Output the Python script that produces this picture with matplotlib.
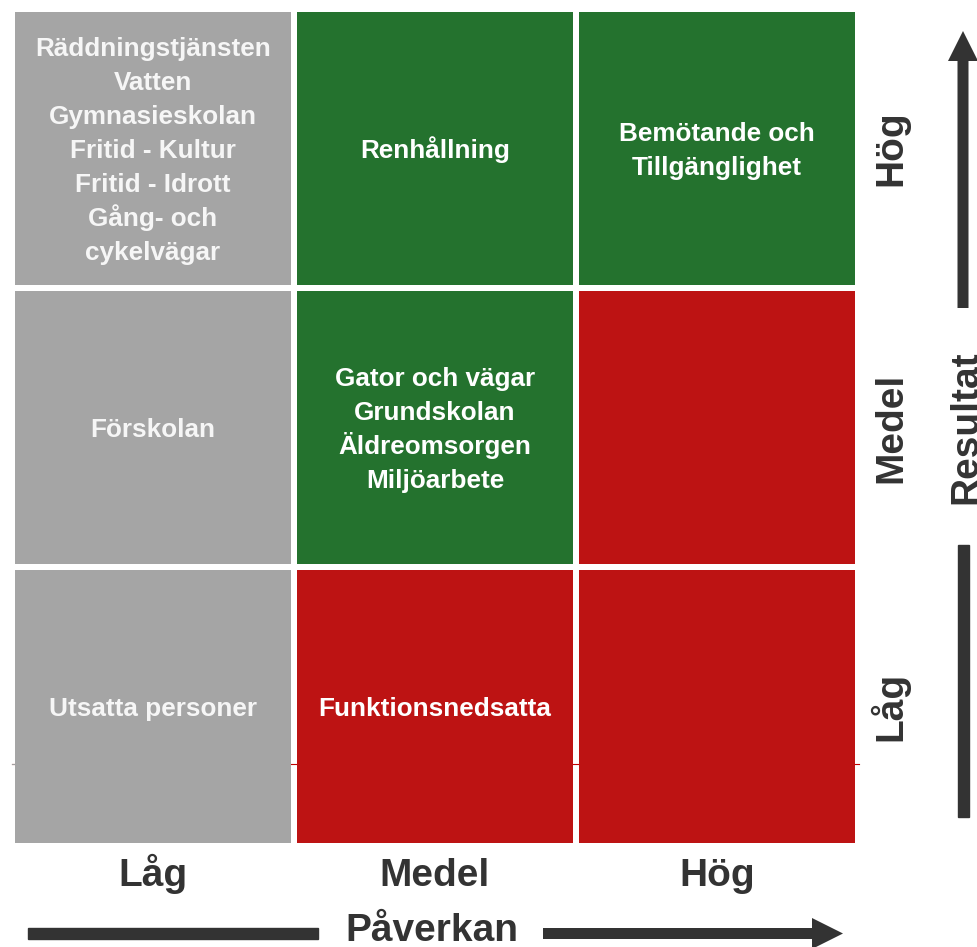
import matplotlib
matplotlib.use("Agg")
import matplotlib.pyplot as plt
from matplotlib import patches

plt.rcParams['font.family'] = ['Liberation Sans', 'DejaVu Sans']
plt.rcParams['font.weight'] = 'bold'

# kolumner = Påverkan, rader = Resultat (nerifrån och upp)
cols = ['Låg', 'Medel', 'Hög']
rows = ['Låg', 'Medel', 'Hög']
status = [
    ['gra', 'rod', 'rod'],    # Låg
    ['gra', 'gron', 'rod'],   # Medel
    ['gra', 'gron', 'gron'],  # Hög
]
texts = [
    ['Utsatta personer', 'Funktionsnedsatta', ''],
    ['Förskolan', 'Gator och vägar\nGrundskolan\nÄldreomsorgen\nMiljöarbete', ''],
    ['Räddningstjänsten\nVatten\nGymnasieskolan\nFritid - Kultur\nFritid - Idrott\nGång- och\ncykelvägar',
     'Renhållning', 'Bemötande och\nTillgänglighet'],
]
x_title = 'Påverkan'
y_title = 'Resultat'

colors = {'gra': '#a5a5a5', 'gron': '#24722e', 'rod': '#bd1313'}
textcol = {'gra': '#f6f6f6', 'gron': 'white', 'rod': 'white'}
dark = '#333333'

W, H = 978, 947
fig = plt.figure(figsize=(W / 100, H / 100), dpi=100)
ax = fig.add_axes([15 / W, 104 / H, 840 / W, 831 / H])

bw = 276 / 282
bh = 273 / 279
for r in range(len(rows)):
    ax.bar(range(len(cols)), bh, bottom=r - bh / 2, width=bw,
           color=[colors[s] for s in status[r]], zorder=2)

ax.set_xlim(-0.5 + (1 - bw) / 2, len(cols) - 0.5 - (1 - bw) / 2)
ax.set_ylim(-0.5 + (1 - bh) / 2, len(rows) - 0.5 - (1 - bh) / 2)
ax.axis('off')

# tunn linje bakom rutorna
ax.axhline(-0.206, xmin=-0.004, xmax=1.005, color='#c00000', lw=0.8,
           zorder=1, clip_on=False)
ax.axhline(-0.206, xmin=-0.004, xmax=0.0, color='#a0a0a0', lw=0.8,
           zorder=1, clip_on=False)

# text i rutorna, en rad i taget (34 px radavstånd)
pitch = 34 * 0.72
half_cap = 9 * 0.72
for r in range(len(rows)):
    for c in range(len(cols)):
        lines = texts[r][c].split('\n') if texts[r][c] else []
        n = len(lines)
        for k, line in enumerate(lines):
            off = -(k - (n - 1) / 2) * pitch - half_cap
            ax.annotate(line, xy=(c, r), xytext=(0, off),
                        textcoords='offset points', ha='center',
                        va='baseline', fontsize=18.8, fontweight='bold',
                        color=textcol[status[r][c]], zorder=3)

# kolumnrubriker
for c, lab in enumerate(cols):
    ax.text(c, -43 / 831, lab, transform=ax.get_xaxis_transform(),
            ha='center', va='baseline', fontsize=28, color=dark)

# radrubriker
for r, lab in enumerate(rows):
    ax.text((901 - 15) / 840, r, lab, transform=ax.get_yaxis_transform(),
            rotation=90, rotation_mode='anchor', ha='center', va='baseline',
            fontsize=28, color=dark)

# pilar och axeltitlar
ov = fig.add_axes([0, 0, 1, 1], zorder=-1)
ov.set_xlim(0, W)
ov.set_ylim(H, 0)
ov.axis('off')

ov.add_patch(patches.Rectangle((28, 928), 290, 11, color=dark))
ov.add_patch(patches.FancyArrow(543, 933.5, 300, 0, width=11, head_width=31,
                                head_length=31, length_includes_head=True,
                                color=dark, lw=0))
ov.text(432, 941, x_title, ha='center', va='baseline', fontsize=28, color=dark)

ov.add_patch(patches.FancyArrow(963, 308, 0, -277, width=11, head_width=30,
                                head_length=30, length_includes_head=True,
                                color=dark, lw=0))
ov.add_patch(patches.Rectangle((957.5, 545), 11, 272, color=dark))
ov.text(976, 427, y_title, rotation=90, rotation_mode='anchor', ha='center',
        va='baseline', fontsize=28, color=dark)

fig.savefig('out.png', dpi=100)
